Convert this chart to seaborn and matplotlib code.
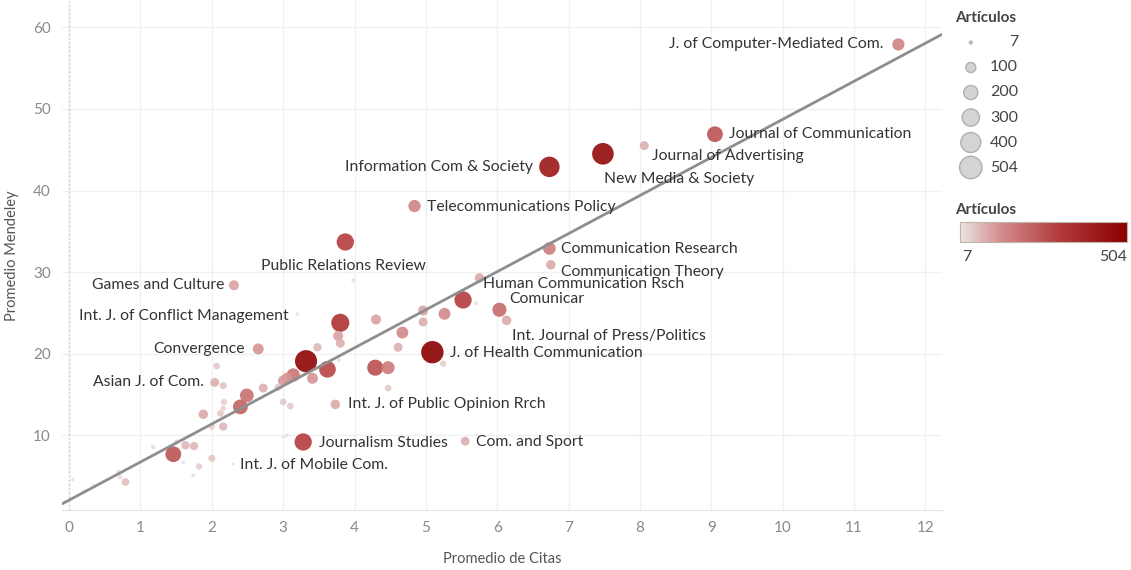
import numpy as np
import pandas as pd
import matplotlib.pyplot as plt
import matplotlib.colors as mcolors
import seaborn as sns

# journal data: average citations, average Mendeley readers, number of articles
journals = [
    'J. of Computer-Mediated Com.', 'Journal of Communication', 'Journal of Advertising',
    'New Media & Society', 'Information Com & Society', 'Telecommunications Policy',
    'Public Relations Review', 'Communication Research', 'Communication Theory',
    'Games and Culture', 'Human Communication Rsch', 'Comunicar',
    'Int. Journal of Press/Politics', 'J. of Health Communication',
    'Int. J. of Conflict Management', 'Convergence', 'Asian J. of Com.',
    'Int. J. of Public Opinion Rrch', 'Journalism Studies', 'Com. and Sport',
    'Int. J. of Mobile Com.',
]
citas_lab = [11.62, 9.05, 8.06, 7.48, 6.73, 4.84, 3.87, 6.73, 6.75, 2.31, 5.75, 6.03,
             6.13, 5.09, 3.20, 2.65, 2.04, 3.73, 3.28, 5.55, 2.30]
mendeley_lab = [57.9, 46.9, 45.5, 44.5, 42.9, 38.1, 33.7, 32.9, 30.9, 28.4, 29.3, 25.4,
                24.1, 20.2, 24.9, 20.6, 16.5, 13.8, 9.2, 9.3, 6.5]
articulos_lab = [150, 250, 80, 470, 420, 150, 300, 160, 90, 100, 90, 200,
                 90, 504, 12, 120, 80, 90, 300, 80, 10]

# unlabeled journals
citas_other = [5.52, 3.32, 3.62, 4.29, 4.47, 3.80, 1.46, 2.40, 2.49, 3.14, 3.05, 3.41,
               3.00, 2.72, 2.93, 1.88, 2.16, 2.00, 2.12, 2.17, 2.16, 2.16, 2.07, 1.63,
               1.75, 1.51, 1.18, 1.60, 2.00, 1.82, 1.74, 0.05, 0.34, 0.69, 0.71, 0.79,
               0.20, 3.00, 3.10, 3.00, 3.05, 3.48, 3.80, 3.78, 3.77, 4.30, 4.67, 4.61,
               4.96, 4.96, 5.26, 5.24, 4.47, 3.98, 5.70]
mendeley_other = [26.6, 19.1, 18.1, 18.3, 18.3, 23.8, 7.7, 13.5, 14.9, 17.4, 17.0, 17.0,
                  16.7, 15.8, 15.9, 12.6, 11.1, 11.1, 12.7, 14.1, 13.3, 16.1, 18.5, 8.8,
                  8.7, 9.2, 8.6, 6.7, 7.2, 6.2, 5.1, 4.6, 3.9, 5.6, 4.9, 4.3,
                  3.2, 14.1, 13.6, 9.8, 10.0, 20.8, 21.3, 19.2, 22.2, 24.2, 22.6, 20.8,
                  25.3, 23.9, 24.9, 18.8, 15.8, 29.0, 26.2]
articulos_other = [300, 490, 280, 260, 170, 330, 250, 220, 190, 180, 120, 120,
                   110, 80, 50, 90, 70, 40, 45, 40, 30, 50, 45, 70,
                   70, 25, 20, 12, 50, 40, 15, 12, 10, 15, 20, 60,
                   8, 45, 45, 12, 15, 70, 80, 15, 100, 100, 140, 80,
                   100, 80, 140, 40, 45, 15, 15]

size_legend = [7, 100, 200, 300, 400, 504]

df = pd.DataFrame({
    'Journal': journals + [''] * len(citas_other),
    'Promedio de Citas': citas_lab + citas_other,
    'Promedio Mendeley': mendeley_lab + mendeley_other,
    'Artículos': articulos_lab + articulos_other,
})
df = df.sort_values('Artículos', ascending=False)

# label placement: offset in pixels from the point, alignment
label_pos = {
    'J. of Computer-Mediated Com.': (-15, 0, 'right'),
    'Journal of Communication': (14, 0, 'left'),
    'Journal of Advertising': (8, -10, 'left'),
    'New Media & Society': (1, -25, 'left'),
    'Information Com & Society': (-16, 0, 'right'),
    'Telecommunications Policy': (12, -1, 'left'),
    'Public Relations Review': (-2, -24, 'center'),
    'Communication Research': (12, 0, 'left'),
    'Communication Theory': (10, -7, 'left'),
    'Games and Culture': (-10, 0, 'right'),
    'Human Communication Rsch': (4, -6, 'left'),
    'Comunicar': (10, 11, 'left'),
    'Int. Journal of Press/Politics': (5, -16, 'left'),
    'J. of Health Communication': (18, -1, 'left'),
    'Int. J. of Conflict Management': (-9, -2, 'right'),
    'Convergence': (-13, 0, 'right'),
    'Asian J. of Com.': (-11, 0, 'right'),
    'Int. J. of Public Opinion Rrch': (13, 0, 'left'),
    'Journalism Studies': (16, -1, 'left'),
    'Com. and Sport': (11, -1, 'left'),
    'Int. J. of Mobile Com.': (7, -1, 'left'),
}

sns.set_style('white')
plt.rcParams['font.family'] = ['Lato', 'DejaVu Sans']

cmap = mcolors.LinearSegmentedColormap.from_list(
    'tab_red', [(0.0, '#ece4e4'), (0.25, '#d38b8b'), (0.6, '#b23a3a'), (1.0, '#8b0000')])
size_range = (4, 260)
norm_range = (7, 504)

fig = plt.figure(figsize=(11.31, 5.7), dpi=100)
ax = fig.add_axes([0.0548, 0.105, 0.778, 0.893])

ax.set_xlim(-0.1, 12.23)
ax.set_ylim(0.85, 63.2)
ax.set_xticks(range(0, 13))
ax.set_yticks([10, 20, 30, 40, 50, 60])
ax.grid(True, color='#f0f0f0', lw=1)
ax.set_axisbelow(True)
ax.axvline(0, color='#c8c8c8', lw=1, ls=(0, (1, 2)), zorder=1)

sns.regplot(data=df, x='Promedio de Citas', y='Promedio Mendeley', scatter=False,
            ci=None, truncate=False, ax=ax,
            line_kws={'color': '#8e8e8e', 'lw': 2, 'zorder': 3})

sns.scatterplot(data=df, x='Promedio de Citas', y='Promedio Mendeley',
                hue='Artículos', palette=cmap, hue_norm=norm_range,
                size='Artículos', sizes=size_range, size_norm=norm_range,
                alpha=0.9, linewidth=0, legend=False, ax=ax, zorder=2)

for _, row in df[df['Journal'] != ''].iterrows():
    dx, dy, ha = label_pos[row['Journal']]
    ax.annotate(row['Journal'], (row['Promedio de Citas'], row['Promedio Mendeley']),
                xytext=(dx * 0.72, dy * 0.72), textcoords='offset points',
                ha=ha, va='center', fontsize=11.3, color='#333333', zorder=4)

for s in ['top', 'right', 'left']:
    ax.spines[s].set_visible(False)
ax.spines['bottom'].set_color('#e3e3e3')
ax.tick_params(axis='both', length=0, labelsize=11, labelcolor='#8a8a8a', pad=8)
ax.set_xlabel('Promedio de Citas', fontsize=10.5, color='#555555', labelpad=12)
ax.set_ylabel('Promedio Mendeley', fontsize=10.5, color='#555555', labelpad=10)

# size legend
fig.text(955 / 1131, 1 - 18 / 570, 'Artículos', fontsize=11, color='#444444',
         fontweight='bold', va='center')
lax = fig.add_axes([950 / 1131, 1 - 180 / 570, 40 / 1131, 150 / 570])
lax.set_xlim(0, 1)
lax.set_ylim(5.5, -0.5)
lax.axis('off')
leg_df = pd.DataFrame({'v': size_legend, 'pos': range(len(size_legend)),
                       'x': [0.52] * len(size_legend)})
sns.scatterplot(data=leg_df, x='x', y='pos', size='v', sizes=size_range,
                size_norm=norm_range, color='#d4d4d4', edgecolor='#b0b0b0',
                linewidth=1, legend=False, ax=lax)
for v, p in zip(size_legend, range(len(size_legend))):
    fig.text(1018 / 1131, 1 - (42 + p * 25.2) / 570, str(v), fontsize=11.5,
             color='#444444', ha='right', va='center')

# colour legend
fig.text(955 / 1131, 1 - 210 / 570, 'Artículos', fontsize=11, color='#444444',
         fontweight='bold', va='center')
cax = fig.add_axes([960 / 1131, 1 - 242 / 570, 167 / 1131, 20 / 570])
cax.imshow(np.linspace(0, 1, 256)[None, :], aspect='auto', cmap=cmap)
cax.set_xticks([])
cax.set_yticks([])
for s in cax.spines.values():
    s.set_color('#bdb6ad')
fig.text(962 / 1131, 1 - 257 / 570, str(norm_range[0]), fontsize=11.5,
         color='#444444', ha='left', va='center')
fig.text(1127 / 1131, 1 - 257 / 570, str(norm_range[1]), fontsize=11.5,
         color='#444444', ha='right', va='center')

fig.savefig('out.png', dpi=100)
